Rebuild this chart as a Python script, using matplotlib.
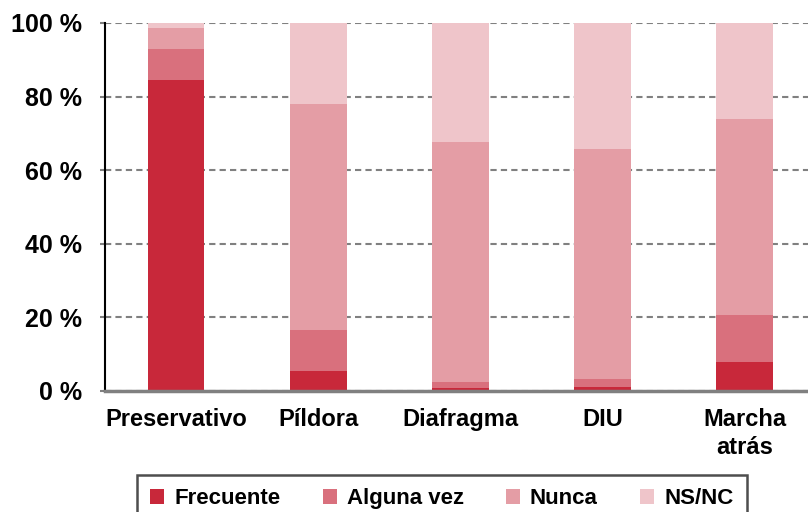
import matplotlib
matplotlib.use('Agg')
import matplotlib.pyplot as plt
import numpy as np

categorias = ['Preservativo', 'Píldora', 'Diafragma', 'DIU', 'Marcha\natrás']
frecuente = [84.5, 5.4, 0.7, 1.0, 7.8]
alguna_vez = [8.4, 11.1, 1.7, 2.2, 12.8]
nunca = [5.7, 61.5, 65.3, 62.6, 53.3]
ns_nc = [1.4, 22.0, 32.3, 34.2, 26.1]

series = [
    ('Frecuente', frecuente, '#C8283A'),
    ('Alguna vez', alguna_vez, '#D9707D'),
    ('Nunca', nunca, '#E49DA5'),
    ('NS/NC', ns_nc, '#EFC5CA'),
]

NARROW = ['Liberation Sans Narrow', 'Liberation Sans', 'DejaVu Sans']
plt.rcParams['font.family'] = NARROW
plt.rcParams['font.weight'] = 'bold'

fig = plt.figure(figsize=(8.08, 5.12), dpi=100)
ax = fig.add_axes([105 / 808, 121 / 512, 703 / 808, 368 / 512])

x = np.arange(len(categorias))
bottom = np.zeros(len(categorias))
for nombre, valores, color in series:
    ax.bar(x, valores, width=0.4, bottom=bottom, color=color, label=nombre, zorder=2)
    bottom += np.array(valores)

ax.set_ylim(0, 100)
ax.set_xlim(-0.5, 4.446)
ax.set_yticks([0, 20, 40, 60, 80, 100])
ax.set_yticklabels([f'{v} %' for v in [0, 20, 40, 60, 80, 100]], fontsize=18, fontweight='bold',
                   family=['Liberation Sans', 'DejaVu Sans'])
ax.set_xticks(x)
ax.set_xticklabels(categorias, fontsize=17, fontweight='bold', linespacing=1.3)
ax.tick_params(axis='x', length=0, pad=12)
ax.tick_params(axis='y', length=3.6, color='#808080', width=1.5, pad=13)
ax.yaxis.grid(True, linestyle=(0, (3, 2)), color='#808080', linewidth=1.5, zorder=1)

for s in ['top', 'right']:
    ax.spines[s].set_visible(False)
ax.spines['left'].set_color('black')
ax.spines['left'].set_linewidth(1.5)
ax.spines['bottom'].set_color('#808080')
ax.spines['bottom'].set_linewidth(2.5)

leg = fig.legend(loc='upper left', bbox_to_anchor=(137 / 808, 1 - 475 / 512), ncol=4,
                 frameon=True, fancybox=False, edgecolor='#222222',
                 handlelength=0.63, handleheight=0.63, handletextpad=0.45, columnspacing=1.9,
                 borderpad=0.6, borderaxespad=0,
                 prop={'family': NARROW, 'weight': 'bold', 'size': 16})
leg.get_frame().set_linewidth(1.8)

fig.savefig('out.png', dpi=100)
